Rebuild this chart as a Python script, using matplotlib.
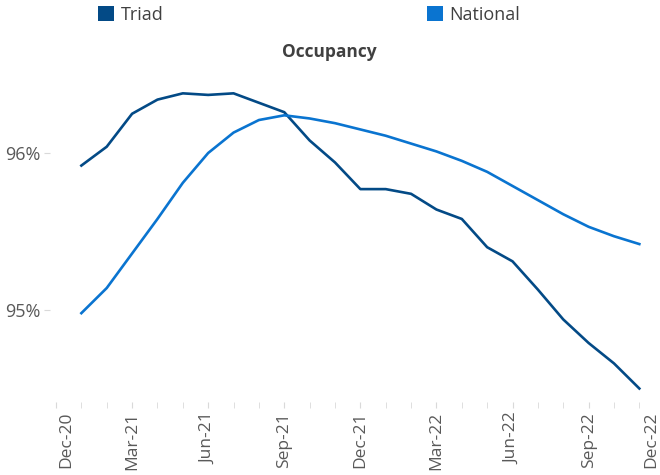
import matplotlib.pyplot as plt
from matplotlib.patches import Patch
from matplotlib.transforms import ScaledTranslation

plt.rcParams['font.family'] = ['Open Sans', 'DejaVu Sans']

# ── data (monthly occupancy, %) ─────────────────────────────────
months = ["Dec-20", "Jan-21", "Feb-21", "Mar-21", "Apr-21", "May-21", "Jun-21",
          "Jul-21", "Aug-21", "Sep-21", "Oct-21", "Nov-21", "Dec-21",
          "Jan-22", "Feb-22", "Mar-22", "Apr-22", "May-22", "Jun-22",
          "Jul-22", "Aug-22", "Sep-22", "Oct-22", "Nov-22", "Dec-22"]
data_months = months[1:24]  # Jan-21 .. Nov-22

triad = [95.92, 96.04, 96.25, 96.34, 96.38, 96.37, 96.38, 96.32, 96.26, 96.08,
         95.94, 95.77, 95.77, 95.74, 95.64, 95.58, 95.40, 95.31, 95.13, 94.94,
         94.79, 94.66, 94.50]
national = [94.98, 95.14, 95.36, 95.58, 95.81, 96.00, 96.13, 96.21, 96.24, 96.22,
            96.19, 96.15, 96.11, 96.06, 96.01, 95.95, 95.88, 95.79, 95.70, 95.61,
            95.53, 95.47, 95.42]
y_ticks = [95, 96]

c_triad = "#034a86"
c_nat = "#0a74d0"
grey = "#595959"

fig = plt.figure(figsize=(6.6, 4.75), dpi=100)
ax = fig.add_axes([56 / 660, 70 / 475, 608.7 / 660, 330.5 / 475])

x = [months.index(m) for m in data_months]
ax.plot(x, triad, color=c_triad, lw=1.9, solid_joinstyle="round")
ax.plot(x, national, color=c_nat, lw=1.9, solid_joinstyle="round")

ax.set_xlim(0, len(months) - 1)
ax.set_ylim(94.395, 96.5)

# x axis: label every quarter, small tick each month
ax.set_xticks(range(0, len(months), 3))
ax.set_xticklabels(months[::3], rotation=90)
ax.set_xticks(range(len(months)), minor=True)
ax.tick_params(axis="x", which="both", direction="inout", length=4,
               color="#d9d9d9", labelsize=12.5, labelcolor=grey, pad=3)

# first / last labels are pulled in like in the original
lbls = ax.get_xticklabels()
lbls[0].set_transform(lbls[0].get_transform() + ScaledTranslation(0.10, 0, fig.dpi_scale_trans))
lbls[-1].set_transform(lbls[-1].get_transform() + ScaledTranslation(-0.135, 0, fig.dpi_scale_trans))

ax.set_yticks(y_ticks)
ax.set_yticklabels([f"{v}%" for v in y_ticks])
ax.tick_params(axis="y", direction="out", length=4, color="#d9d9d9",
               labelsize=13, labelcolor=grey, pad=3.5)

for s in ["top", "right", "bottom"]:
    ax.spines[s].set_visible(False)
ax.spines["left"].set_position(("outward", 4))
ax.spines["left"].set_visible(False)

fig.text(329 / 660, 1 - 52 / 475, "Occupancy", ha="center", va="center",
         fontsize=12.5, fontweight="bold", color="#404040")

handles = [Patch(facecolor=c_triad, edgecolor="none", label="Triad"),
           Patch(facecolor=c_nat, edgecolor="none", label="National")]
fig.legend(handles=handles, ncol=2, loc="center left",
           bbox_to_anchor=(98 / 660, 1 - 15 / 475), frameon=False,
           fontsize=13, labelcolor="#404040", borderpad=0, borderaxespad=0,
           handlelength=0.9, handleheight=0.9, handletextpad=0.35,
           columnspacing=14.6)

plt.savefig("out.png", dpi=100)
